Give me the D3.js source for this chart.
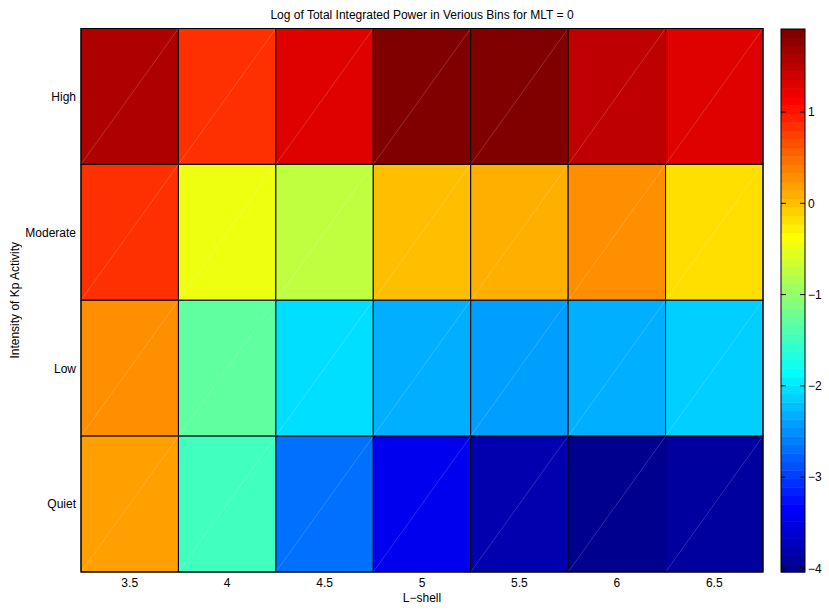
<!DOCTYPE html>
<html>
<head>
<meta charset="utf-8">
<script src="https://cdn.jsdelivr.net/npm/d3@7"></script>
<style>
  html, body { margin: 0; padding: 0; background: #fff; }
  svg { display: block; }
  text { font-family: "Liberation Sans", Arial, Helvetica, sans-serif; fill: #000; }
</style>
</head>
<body>
<svg id="chart" width="829" height="610"></svg>
<script>
// ---- Data ----
const lShells = [3.5, 4, 4.5, 5, 5.5, 6, 6.5];
const kpLevels = ["High", "Moderate", "Low", "Quiet"];
const highValues     = [1.60, 0.85, 1.32, 1.91, 1.91, 1.50, 1.32];
const moderateValues = [0.85, -0.45, -0.73, 0.02, 0.11, 0.29, -0.17];
const lowValues      = [0.29, -1.29, -2.04, -2.32, -2.41, -2.32, -2.13];
const quietValues    = [0.20, -1.48, -2.69, -3.44, -3.81, -4.04, -3.90];
const colorLimits = [-4.04, 1.91];
const colorbarTicks = [-4, -3, -2, -1, 0, 1];
const titleText = "Log of Total Integrated Power in Verious Bins for MLT = 0";
const xLabelText = "L\u2212shell";
const yLabelText = "Intensity of Kp Activity";

const rows = { "High": highValues, "Moderate": moderateValues, "Low": lowValues, "Quiet": quietValues };
const cells = [];
kpLevels.forEach(k => lShells.forEach((l, i) => cells.push({ kp: k, l: l, v: rows[k][i] })));

// ---- MATLAB jet(64) ----
function jet(n) {
  const out = [];
  for (let k = 0; k < n; k++) {
    const clamp = x => Math.max(0, Math.min(1, x));
    const kk = k * 64 / n;
    const r = clamp(Math.min((kk - 23) / 16, (71 - kk) / 16));
    const g = clamp(Math.min((kk - 7) / 16, (55 - kk) / 16));
    const b = clamp(Math.min((kk + 9) / 16, (39 - kk) / 16));
    out.push(d3.rgb(r * 255, g * 255, b * 255).formatHex());
  }
  return out;
}
const jetColors = jet(64);
const color = d3.scaleQuantize().domain(colorLimits).range(jetColors);

// ---- Layout ----
const svg = d3.select("#chart");
const plot = { left: 81, right: 763, top: 28.5, bottom: 572 };
const cbar = { left: 781, right: 805, top: 29, bottom: 572 };
const fontSize = "12px";

const x = d3.scaleBand().domain(lShells).range([plot.left, plot.right]).padding(0);
const y = d3.scaleBand().domain(kpLevels).range([plot.top, plot.bottom]).padding(0);

svg.append("rect").attr("width", 829).attr("height", 610).attr("fill", "#fff");

// cells
const g = svg.append("g");
g.selectAll("rect.cell").data(cells).join("rect")
  .attr("class", "cell")
  .attr("x", d => x(d.l)).attr("y", d => y(d.kp))
  .attr("width", x.bandwidth()).attr("height", y.bandwidth())
  .attr("fill", d => color(d.v))
  .attr("stroke", "#000").attr("stroke-width", 1);

// faint triangulation seams
g.selectAll("line.seam").data(cells).join("line")
  .attr("class", "seam")
  .attr("x1", d => x(d.l)).attr("y1", d => y(d.kp) + y.bandwidth())
  .attr("x2", d => x(d.l) + x.bandwidth()).attr("y2", d => y(d.kp))
  .attr("stroke", "#fff").attr("stroke-opacity", 0.3).attr("stroke-width", 0.6);

// plot box
svg.append("rect")
  .attr("x", plot.left).attr("y", plot.top)
  .attr("width", plot.right - plot.left).attr("height", plot.bottom - plot.top)
  .attr("fill", "none").attr("stroke", "#000").attr("stroke-width", 1);

// axes
const xAxis = svg.append("g").attr("transform", `translate(0,${plot.bottom})`)
  .call(d3.axisBottom(x).tickSize(0).tickPadding(6.5).tickFormat(d => String(d)));
xAxis.select(".domain").remove();
xAxis.selectAll("text").style("font-size", fontSize).attr("fill", "#000");

const yAxis = svg.append("g").attr("transform", `translate(${plot.left},0)`)
  .call(d3.axisLeft(y).tickSize(0).tickPadding(5));
yAxis.select(".domain").remove();
yAxis.selectAll("text").style("font-size", fontSize).attr("fill", "#000").attr("dy", "0.36em");

// labels
svg.append("text").attr("x", (plot.left + plot.right) / 2).attr("y", 18.5)
  .attr("text-anchor", "middle").style("font-size", fontSize).text(titleText);
svg.append("text").attr("x", (plot.left + plot.right) / 2).attr("y", 602)
  .attr("text-anchor", "middle").style("font-size", fontSize).text(xLabelText);
svg.append("text").attr("transform", `translate(19,${(plot.top + plot.bottom) / 2}) rotate(-90)`)
  .attr("text-anchor", "middle").style("font-size", fontSize).text(yLabelText);

// ---- Colorbar ----
const cy = d3.scaleLinear().domain(colorLimits).range([cbar.bottom, cbar.top]);
const step = (colorLimits[1] - colorLimits[0]) / jetColors.length;
const cg = svg.append("g");
cg.selectAll("rect").data(jetColors).join("rect")
  .attr("x", cbar.left)
  .attr("y", (c, i) => cy(colorLimits[0] + (i + 1) * step))
  .attr("width", cbar.right - cbar.left)
  .attr("height", (c, i) => cy(colorLimits[0] + i * step) - cy(colorLimits[0] + (i + 1) * step) + 0.5)
  .attr("fill", c => c);
cg.append("rect")
  .attr("x", cbar.left).attr("y", cbar.top)
  .attr("width", cbar.right - cbar.left).attr("height", cbar.bottom - cbar.top)
  .attr("fill", "none").attr("stroke", "#000").attr("stroke-width", 1);

const cAxis = svg.append("g").attr("transform", `translate(${cbar.right},0)`)
  .call(d3.axisRight(cy).tickValues(colorbarTicks).tickSize(0).tickPadding(3).tickFormat(d3.format("d")));
cAxis.select(".domain").remove();
cAxis.selectAll("text").style("font-size", fontSize).attr("fill", "#000");

// inward tick marks on both sides
const tickLen = 5;
cg.selectAll("line.tl").data(colorbarTicks).join("line")
  .attr("x1", cbar.left).attr("x2", cbar.left + tickLen)
  .attr("y1", d => cy(d)).attr("y2", d => cy(d))
  .attr("stroke", "#000").attr("stroke-width", 1);
cg.selectAll("line.tr").data(colorbarTicks).join("line")
  .attr("x1", cbar.right - tickLen).attr("x2", cbar.right)
  .attr("y1", d => cy(d)).attr("y2", d => cy(d))
  .attr("stroke", "#000").attr("stroke-width", 1);
</script>
</body>
</html>
